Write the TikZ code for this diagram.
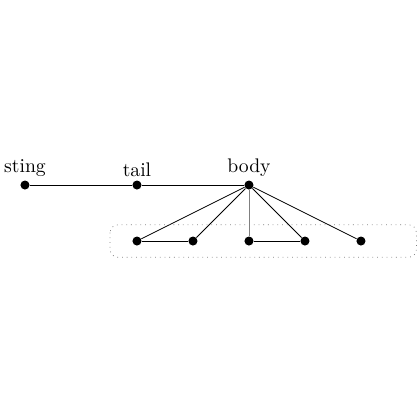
\documentclass[tikz,border=0pt]{standalone}
\usepackage{tikz}
\usetikzlibrary{arrows, backgrounds, fit}

\begin{document}
\begin{tikzpicture}[dot/.style={shape=circle,fill,inner sep=0pt,minimum size=4.6pt}]
\useasboundingbox (-0.446,-4.196) rectangle (7.054,3.304);
\node [dot,label={[inner sep=1.5pt]above:sting}] (sting) at (0,0) {};
\node [dot,label={[inner sep=1.5pt]above:tail}] (tail) at (2,0) {};
\node [dot,label={[inner sep=1.5pt]above:body}] (body) at (4,0) {};
\node [dot] (a) at (2,-1) {};
\node [dot] (b) at (3,-1) {};
\node [dot] (c) at (4,-1) {};
\node [dot] (d) at (5,-1) {};
\node [dot] (e) at (6,-1) {};
\draw (sting) -- (tail);
\draw (tail) -- (body);
\draw (body) -- (a);
\draw (body) -- (b);
\draw [gray] (body) -- (c);
\draw (body) -- (d);
\draw (body) -- (e);
\draw (a) -- (b);
\draw (c) -- (d);
\draw [gray, dotted, rounded corners=4pt] (1.52,-0.71) rectangle (6.99,-1.29);
\end{tikzpicture}
\end{document}
